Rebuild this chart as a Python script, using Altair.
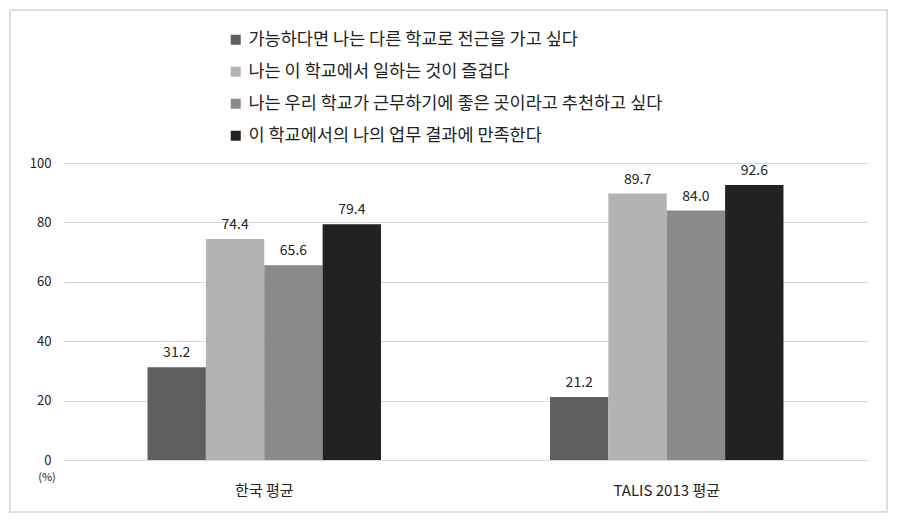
import altair as alt
import pandas as pd

groups = ["한국 평균", "TALIS 2013 평균"]
series = [
    "가능하다면 나는 다른 학교로 전근을 가고 싶다",
    "나는 이 학교에서 일하는 것이 즐겁다",
    "나는 우리 학교가 근무하기에 좋은 곳이라고 추천하고 싶다",
    "이 학교에서의 나의 업무 결과에 만족한다",
]
korea = [31.2, 74.4, 65.6, 79.4]
talis = [21.2, 89.7, 84.0, 92.6]
colors = ["#5f5f5f", "#b3b3b3", "#8a8a8a", "#222222"]

rows = []
for g, vals in zip(groups, [korea, talis]):
    for i, (s, v) in enumerate(zip(series, vals)):
        rows.append({"group": g, "series": s, "order": i, "value": v})
df = pd.DataFrame(rows)

FONT = "Noto Sans CJK KR"

x = alt.X("group:N", sort=groups, title=None,
          scale=alt.Scale(paddingInner=0.42, paddingOuter=0.21),
          axis=alt.Axis(labelAngle=0, labelFontSize=15, labelColor="#222",
                        labelPadding=23, ticks=False, domain=False, labelFont=FONT))
xo = alt.XOffset("series:N", sort=series, scale=alt.Scale(paddingInner=0, paddingOuter=0))
y = alt.Y("value:Q", title=None,
          scale=alt.Scale(domain=[0, 100]),
          axis=alt.Axis(values=[0, 20, 40, 60, 80, 100], grid=True, gridColor="#d9d9d9",
                        domain=False, ticks=False, labelPadding=12, labelFontSize=13,
                        labelColor="#222", labelFont=FONT))

base = alt.Chart(df)

bars = base.mark_bar(strokeWidth=0).encode(
    x=x, xOffset=xo, y=y,
    color=alt.Color("series:N", sort=series,
                    scale=alt.Scale(domain=series, range=colors),
                    legend=alt.Legend(title=None, orient="none", legendX=164, legendY=-132,
                                      symbolType="square", symbolSize=100, symbolStrokeWidth=0,
                                      labelFontSize=17.5, labelColor="#222", labelFont=FONT,
                                      rowPadding=13, labelLimit=700, labelOffset=4)),
)

labels = base.mark_text(dy=-14, fontSize=14, color="#222", font=FONT).encode(
    x=x, xOffset=xo, y=y,
    text=alt.Text("value:Q", format=".1f"),
)

pct = alt.Chart(pd.DataFrame({"t": ["(%)"]})).mark_text(
    fontSize=11, color="#222", font=FONT).encode(
    x=alt.value(-16), y=alt.value(18 + 297), text="t:N")

frame = alt.Chart(pd.DataFrame({"t": [0]})).mark_rect(
    fill=None, stroke="#dedede", strokeWidth=2).encode(
    x=alt.value(-53), x2=alt.value(824), y=alt.value(-153), y2=alt.value(349))

chart = alt.layer(frame, bars, labels, pct).properties(
    width=805, height=297,
    autosize=alt.AutoSizeParams(type="none"),
    padding={"left": 63, "top": 163, "right": 32, "bottom": 63},
    background="white",
).configure_view(stroke=None)

chart.save("out.html", embed_options={"renderer": "svg", "actions": False})
